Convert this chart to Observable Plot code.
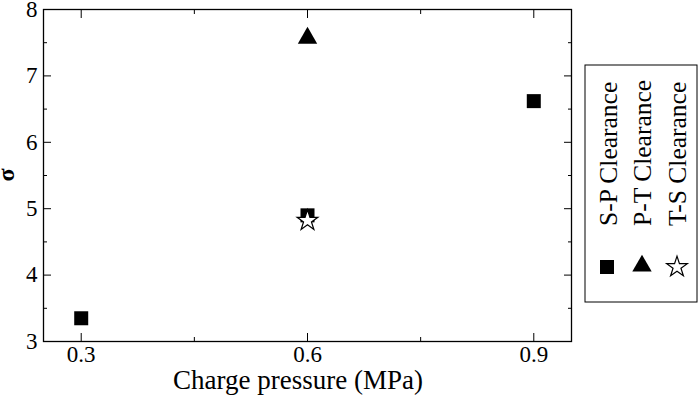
<!DOCTYPE html>
<html>
<head>
<meta charset="utf-8">
<script src="https://cdn.jsdelivr.net/npm/d3@7"></script>
<script src="https://cdn.jsdelivr.net/npm/@observablehq/plot@0.6"></script>
<style>
  body { margin: 0; background: #fff; }
  #chart svg, #chart svg text { font-family: "Liberation Serif", "DejaVu Serif", serif !important; }
</style>
</head>
<body>
<div id="chart"></div>
<script>
const seriesNames = ["S-P Clearance", "P-T Clearance", "T-S Clearance"];
const spPressure = [0.3, 0.6, 0.9];
const spSigma = [3.35, 4.9, 6.62];
const ptPressure = [0.6];
const ptSigma = [7.57];
const tsPressure = [0.6];
const tsSigma = [4.82];
const xTicks = [0.3, 0.6, 0.9];
const xMinorTicks = [0.45, 0.75];
const yTicks = [3, 4, 5, 6, 7, 8];
const yMinorTicks = [3.5, 4.5, 5.5, 6.5, 7.5];

const toRows = (xs, ys) => xs.map((x, i) => ({x, y: ys[i]}));
const sp = toRows(spPressure, spSigma);
const pt = toRows(ptPressure, ptSigma);
const ts = toRows(tsPressure, tsSigma);

const W = 700, H = 399;
const plot = Plot.plot({
  width: W, height: H,
  marginLeft: 43, marginRight: 129, marginTop: 9, marginBottom: 58,
  style: {fontFamily: "Liberation Serif, serif", fontSize: "23px", color: "#000", background: "#fff", overflow: "visible"},
  x: {domain: [0.25, 0.95]},
  y: {domain: [3, 8]},
  marks: [
    Plot.frame({stroke: "#000", strokeWidth: 1.3}),
    Plot.axisX(xTicks, {anchor: "bottom", tickSize: -8, tickPadding: 12, tickFormat: d3.format(".1f"), label: null, fontSize: 23}),
    Plot.axisX(xMinorTicks, {anchor: "bottom", tickSize: -4, tickFormat: () => "", label: null}),
    Plot.axisX(xTicks, {anchor: "top", tickSize: -8, tickFormat: () => "", label: null}),
    Plot.axisX(xMinorTicks, {anchor: "top", tickSize: -4, tickFormat: () => "", label: null}),
    Plot.axisY(yTicks, {anchor: "left", tickSize: -8, tickPadding: 14, tickFormat: d3.format("d"), label: null, fontSize: 23}),
    Plot.axisY(yMinorTicks, {anchor: "left", tickSize: -4, tickFormat: () => "", label: null}),
    Plot.axisY(yTicks, {anchor: "right", tickSize: -8, tickFormat: () => "", label: null}),
    Plot.axisY(yMinorTicks, {anchor: "right", tickSize: -4, tickFormat: () => "", label: null}),
    Plot.dot(sp, {x: "x", y: "y", symbol: "square", r: 7.9, fill: "#000", stroke: "none"}),
    Plot.dot(pt, {x: "x", y: "y", symbol: "triangle", r: 7.2, fill: "#000", stroke: "none"}),
    Plot.dot(ts, {x: "x", y: "y", symbol: "star", r: 6.5, fill: "#fff", stroke: "#000", strokeWidth: 1.2})
  ]
});
document.getElementById("chart").appendChild(plot);

const svg = d3.select(plot);

// axis titles
svg.append("text")
  .attr("x", 298).attr("y", 389)
  .attr("text-anchor", "middle")
  .style("font-size", "27px")
  .attr("fill", "#000")
  .text("Charge pressure (MPa)");
svg.append("text")
  .attr("transform", "translate(14,175) rotate(-90)")
  .attr("text-anchor", "middle")
  .style("font-size", "24px")
  .attr("font-weight", "bold")
  .attr("fill", "#000")
  .text("σ");

// legend
const lg = svg.append("g");
lg.append("rect").attr("x", 585).attr("y", 65).attr("width", 112).attr("height", 237)
  .attr("fill", "#fff").attr("stroke", "#000").attr("stroke-width", 1);
const textCols = [617, 651, 686];
const symCols = [607, 642, 677];
const syms = [d3.symbolSquare, d3.symbolTriangle, d3.symbolStar];
const sizes = [Math.PI * 7.9 * 7.9, Math.PI * 7.2 * 7.2, Math.PI * 6.5 * 6.5];
const fills = ["#000", "#000", "#fff"];
seriesNames.forEach((name, i) => {
  lg.append("text")
    .attr("transform", `translate(${textCols[i]},226) rotate(-90)`)
    .attr("text-anchor", "start")
    .style("font-size", "25.5px")
    .attr("fill", "#000")
    .text(name);
  lg.append("path")
    .attr("transform", `translate(${symCols[i]},${i === 1 ? 266 : 267})`)
    .attr("d", d3.symbol(syms[i], sizes[i])())
    .attr("fill", fills[i])
    .attr("stroke", i === 2 ? "#000" : "none")
    .attr("stroke-width", 1.2);
});
</script>
</body>
</html>
